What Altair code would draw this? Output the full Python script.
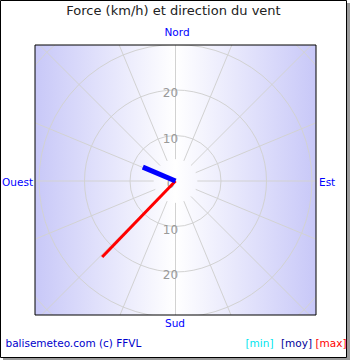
import altair as alt
import pandas as pd

# ---- data ----
wind_series = ["max", "moy"]
wind_dir = [224, 293]          # degrees, 0 = Nord
wind_speed = [23.2, 7.8]       # km/h

grid_radii = [10, 20, 30, 40]
radial_label_vals = [0, 10, 20]
spoke_dirs = [0, 22.5, 45, 67.5, 90, 112.5, 135, 157.5,
              180, 202.5, 225, 247.5, 270, 292.5, 315, 337.5]
compass_names = ["Nord", "Sud", "Ouest", "Est"]
legend_names = ["[min]", "[moy]", "[max]"]

# ---- layout ----
W, H = 281, 270
K = 4.55  # px per km/h
FONT = "DejaVu Sans"
xs = alt.Scale(domain=[-W / 2 / K, W / 2 / K], nice=False, zero=False)
ys = alt.Scale(domain=[-(H - 136) / K, 136 / K], nice=False, zero=False)
one = pd.DataFrame({"a": [0]})

frame_gray = alt.Chart(one).mark_rect(fill="#9a9a9a").encode(
    x=alt.value(-32), x2=alt.value(315), y=alt.value(-42), y2=alt.value(315))
frame_white = alt.Chart(one).mark_rect(fill="white", stroke="black", strokeWidth=1).encode(
    x=alt.value(-34.5), x2=alt.value(311.5), y=alt.value(-44.5), y2=alt.value(312.5))

grad = alt.LinearGradient(
    gradient="linear", x1=0, x2=1, y1=0, y2=0,
    stops=[alt.GradientStop(offset=0, color="#c8c8f8"),
           alt.GradientStop(offset=0.5, color="#ffffff"),
           alt.GradientStop(offset=1, color="#c8c8f8")])
bg = alt.Chart(one).mark_rect(fill=grad).encode(
    x=alt.value(0), x2=alt.value(W), y=alt.value(0), y2=alt.value(H))
border = alt.Chart(one).mark_rect(fill=None, stroke="black", strokeWidth=1).encode(
    x=alt.value(0), x2=alt.value(W), y=alt.value(0), y2=alt.value(H))

spokes = alt.Chart(pd.DataFrame({"d": spoke_dirs})).transform_calculate(
    x1="4.8*sin(datum.d*PI/180)", y1="4.8*cos(datum.d*PI/180)",
    x2="60*sin(datum.d*PI/180)", y2="60*cos(datum.d*PI/180)",
).mark_rule(color="#d2d2d2", strokeWidth=1, clip=True).encode(
    x=alt.X("x1:Q", scale=xs, axis=None), y=alt.Y("y1:Q", scale=ys, axis=None),
    x2="x2:Q", y2="y2:Q")

circles = alt.Chart(pd.DataFrame({"r": grid_radii, "c": [0] * len(grid_radii)})).mark_point(
    shape="circle", filled=False, stroke="#d2d2d2", strokeWidth=1, opacity=1, clip=True
).encode(
    x=alt.X("c:Q", scale=xs, axis=None), y=alt.Y("c:Q", scale=ys, axis=None),
    size=alt.Size("r:Q", legend=None,
                  scale=alt.Scale(type="pow", exponent=2, domain=[0, 40],
                                  range=[0, (2 * 40 * K) ** 2])))

rl_rows = [{"v": v, "pos": v, "t": str(v)} for v in radial_label_vals] + \
          [{"v": v, "pos": -v, "t": str(v)} for v in radial_label_vals if v > 0]
rlabels = alt.Chart(pd.DataFrame(rl_rows)).transform_calculate(c="0").mark_text(
    font=FONT, fontSize=12, color="#999999", dx=-5, dy=3).encode(
    x=alt.X("c:Q", scale=xs, axis=None), y=alt.Y("pos:Q", scale=ys, axis=None), text="t:N")

line_rows = []
for s, d, v in zip(wind_series, wind_dir, wind_speed):
    line_rows.append({"s": s, "d": d, "r": 0, "o": 0})
    line_rows.append({"s": s, "d": d, "r": v, "o": 1})
lines_df = pd.DataFrame(line_rows)

def wind_line(series, color, width):
    return alt.Chart(lines_df).transform_filter(alt.datum.s == series).transform_calculate(
        x="datum.r*sin(datum.d*PI/180)", y="datum.r*cos(datum.d*PI/180)"
    ).mark_line(color=color, strokeWidth=width).encode(
        x=alt.X("x:Q", scale=xs, axis=None), y=alt.Y("y:Q", scale=ys, axis=None),
        order="o:Q")

red = wind_line("max", "#ff0000", 3)
blue = wind_line("moy", "#0000ff", 5)

def txt(t, x, y, size, color, align="center"):
    return alt.Chart(one).mark_text(text=t, font=FONT, fontSize=size, color=color,
                                    align=align, baseline="middle").encode(
        x=alt.value(x), y=alt.value(y))

texts = [
    txt("Force (km/h) et direction du vent", 138.5, -34, 13, "#222222"),
    txt(compass_names[0], 142, -12, 10.5, "#0000ff"),
    txt(compass_names[1], 140, 279, 10.5, "#0000ff"),
    txt(compass_names[2], -2, 138, 10.5, "#0000ff", "right"),
    txt(compass_names[3], 284, 138, 10.5, "#0000ff", "left"),
    txt("balisemeteo.com (c) FFVL", -29.5, 299, 10.5, "#0000cc", "left"),
    txt(legend_names[0], 210.5, 299, 10.5, "#00e5ee", "left"),
    txt(legend_names[1], 246, 299, 10.5, "#000099", "left"),
    txt(legend_names[2], 280.5, 299, 10.5, "#ff0000", "left"),
]

chart = alt.layer(frame_gray, frame_white, bg, spokes, circles, rlabels, border,
                  red, blue, *texts).properties(
    width=W, height=H,
    autosize=alt.AutoSizeParams(type="none"),
    padding={"left": 35, "top": 45, "right": 34, "bottom": 45},
    background="white",
).configure_view(stroke=None)

chart.save("out.html", embed_options={"renderer": "svg", "actions": False})
